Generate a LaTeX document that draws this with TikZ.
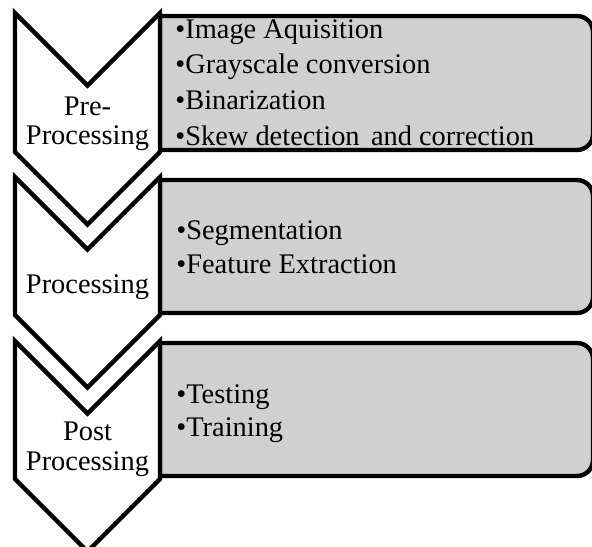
\documentclass[tikz,border=0pt]{standalone}
\usepackage{fontspec}
\setmainfont{Liberation Serif}
\definecolor{boxgray}{RGB}{208,208,208}
\begin{document}
\begin{tikzpicture}[x=0.5pt,y=-0.5pt,
  boxshape/.style={draw=black,fill=boxgray,line width=2.2pt},
  chevshape/.style={draw=black,fill=white,line width=2.2pt},
  itemtext/.style={anchor=base west,inner sep=0pt,font=\fontsize{14.2}{17}\selectfont},
  labtext/.style={anchor=base,inner sep=0pt,font=\fontsize{14.2}{17}\selectfont}]
\useasboundingbox (0,0) rectangle (592,546);
\begin{scope}
\clip (0,0) rectangle (592,546);
% boxes
\foreach \T/\B in {16/150, 180/313, 343/476}{
  \draw[boxshape] (160,\T) -- (577,\T) arc[start angle=-90,end angle=0,radius=16]
    -- (593,\B-16) arc[start angle=0,end angle=90,radius=16] -- (160,\B) -- cycle;
}
% chevrons
\foreach \T/\H in {13/139, 177/138, 341/138}{
  \draw[chevshape] (15,\T) -- (87.5,\T+72.5) -- (160,\T) -- (160,\T+\H)
    -- (87.5,\T+\H+72.5) -- (15,\T+\H) -- cycle;
}
\end{scope}
% chevron labels
\node[labtext] (l1a) at (87.5,115) {Pre-};
\node[labtext] (l1b) at (87.5,144) {Processing};
\node[labtext] (l2) at (87.5,293) {Processing};
\node[labtext] (l3a) at (87.5,440) {Post};
\node[labtext] (l3b) at (87.5,470) {Processing};
% box items
\node[itemtext] (a1) at (175,38) {•Image Aquisition};
\node[itemtext] (a2) at (175,73.7) {•Grayscale conversion};
\node[itemtext] (a3) at (175,109.3) {•Binarization};
\node[itemtext] (a4) at (175,145) {•Skew detection\hspace{0.15em} and correction};
\node[itemtext] (b1) at (176,239) {•Segmentation};
\node[itemtext] (b2) at (176,273) {•Feature Extraction};
\node[itemtext] (c1) at (176,403) {•Testing};
\node[itemtext] (c2) at (176,436) {•Training};
\end{tikzpicture}
\end{document}
